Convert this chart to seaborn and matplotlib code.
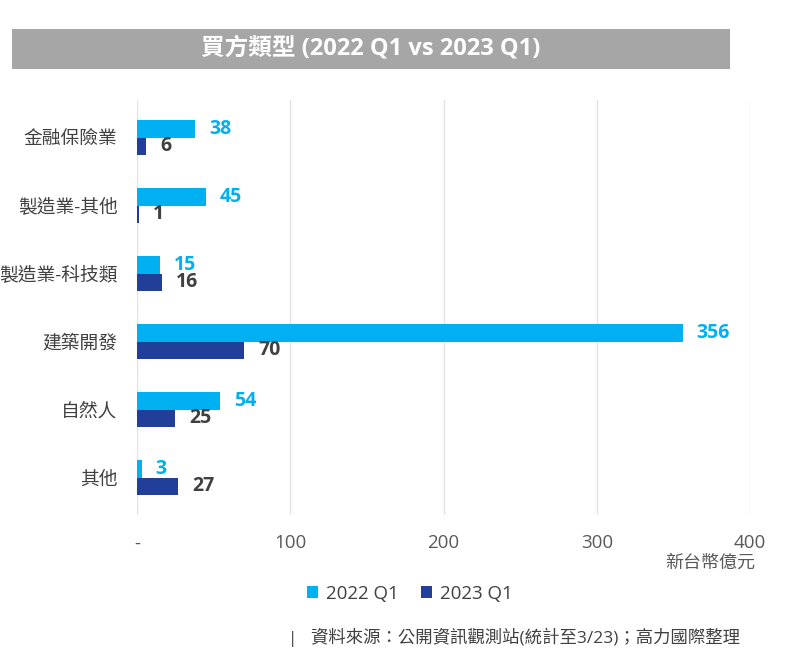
import pandas as pd
import matplotlib.pyplot as plt
import seaborn as sns
from matplotlib.patches import Rectangle

# datos del gráfico
categorias = ['金融保險業', '製造業-其他', '製造業-科技類', '建築開發', '自然人', '其他']
valores_2022 = [38, 45, 15, 356, 54, 3]
valores_2023 = [6, 1, 16, 70, 25, 27]
series = ['2022 Q1', '2023 Q1']
ticks_x = [0, 100, 200, 300, 400]
etiquetas_x = ['-', '100', '200', '300', '400']

colores = {'2022 Q1': '#00b0f0', '2023 Q1': '#213f99'}

df = pd.DataFrame({
    'categoria': categorias * 2,
    'valor': valores_2022 + valores_2023,
    'serie': [series[0]] * len(categorias) + [series[1]] * len(categorias),
})

sns.set_style('white')
plt.rcParams['font.family'] = ['Open Sans', 'Noto Sans CJK TC', 'DejaVu Sans']

fig = plt.figure(figsize=(7.92, 6.68), dpi=100)
ax = fig.add_axes([0.173, 0.229, 0.774, 0.621])

sns.barplot(data=df, x='valor', y='categoria', hue='serie', order=categorias,
            hue_order=series, palette=colores, width=0.52, orient='h',
            saturation=1, ax=ax, legend=True, edgecolor='none', linewidth=0)

# etiquetas de valores
for cont, color in zip(ax.containers, ['#00b0f0', '#404040']):
    ax.bar_label(cont, padding=10, color=color, fontsize=14, fontweight='bold')

ax.set_xlim(0, 400)
ax.set_ylim(5.55, -0.55)
ax.set_xticks(ticks_x)
ax.set_xticklabels(etiquetas_x)
ax.xaxis.grid(True, color='#e3e3e3', linewidth=1)
ax.set_axisbelow(True)
for s in ax.spines.values():
    s.set_visible(False)
ax.tick_params(axis='x', length=0, pad=14, labelsize=13.5, labelcolor='#595959')
ax.tick_params(axis='y', length=0, pad=14, labelsize=13.5, labelcolor='#404040')
ax.set_xlabel('')
ax.set_ylabel('')

# leyenda
ax.legend(loc='center', bbox_to_anchor=(0.445, -0.19), ncol=2, frameon=False,
          fontsize=13.5, labelcolor='#404040', handlelength=0.6, handleheight=0.6,
          handletextpad=0.4, columnspacing=1.2)

# unidad
fig.text(0.953, 0.157, '新台幣億元', ha='right', va='center', fontsize=13, color='#595959')

# título
fig.patches.append(Rectangle((12 / 792, 1 - 69 / 668), 718 / 792, 40 / 668,
                             transform=fig.transFigure, facecolor='#a6a6a6',
                             edgecolor='none', zorder=0))
fig.text(371 / 792, 1 - 49 / 668, '買方類型 (2022 Q1 vs 2023 Q1)', ha='center', va='center',
         fontsize=17, fontweight='bold', color='white')

# fuente
fig.text(288 / 792, 1 - 637 / 668, '|   資料來源：公開資訊觀測站(統計至3/23)；高力國際整理',
         ha='left', va='center', fontsize=12.5, color='#404040')

fig.savefig('out.png', dpi=100)
